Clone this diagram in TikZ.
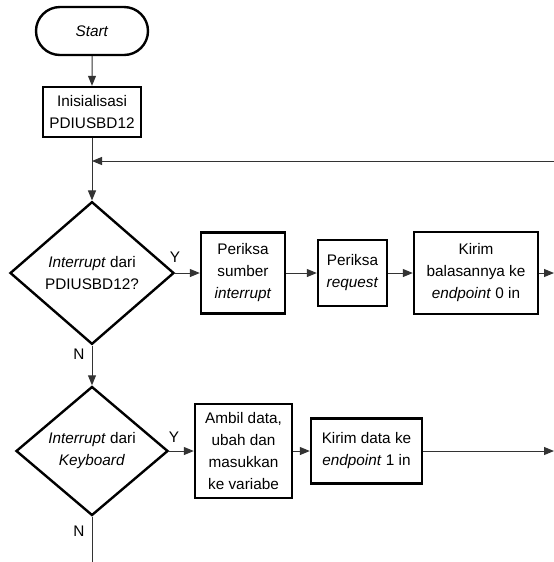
\documentclass[tikz,border=0pt]{standalone}
\usepackage{fontspec}
\setmainfont{Liberation Sans}
\usetikzlibrary{arrows.meta,shapes.geometric,shapes.misc}
\tikzset{
  fcnode/.style = {align=center, inner sep=0pt, text centered,
    font=\fontsize{11.5}{16.5}\selectfont, draw=black, line width=1.8pt},
  fc_term/.style = {fcnode, rounded rectangle, minimum width=84pt,
    minimum height=36pt},% terminal
  fc_proc/.style = {fcnode, rectangle},% proses
  fc_dec/.style = {fcnode, diamond, aspect=1.15},% keputusan
  fc_lbl/.style = {inner sep=0pt, font=\fontsize{11.5}{13}\selectfont},% label Y/N
  fc_line/.style = {draw=black!80, line width=0.75pt}% garis alur
}

\begin{document}
\begin{tikzpicture}[x=0.75pt,y=-0.75pt,>={Triangle[length=7.5pt,width=6pt]}]
\useasboundingbox (0,0) rectangle (554,562);
\node [fc_term] (start) at (92,31) {\textit{Start}};
\node [fc_proc, minimum width=73.5pt, minimum height=37.5pt] (init) at (92,112)
    {Inisialisasi\\PDIUSBD12};
\node [fc_dec, minimum width=123pt, minimum height=107pt] (cek_usb) at (92,273)
    {\textit{Interrupt} dari\\PDIUSBD12?};
\node [fc_proc, minimum width=63pt, minimum height=60.75pt] (sumber) at (243,273)
    {Periksa\\sumber\\\textit{interrupt}};
\node [fc_proc, minimum width=51.75pt, minimum height=49.5pt] (request) at (352.5,273)
    {Periksa\\\textit{request}};
\node [fc_proc, minimum width=93pt, minimum height=61.5pt] (balas) at (476,273)
    {Kirim\\balasannya ke\\\textit{endpoint} 0 in};
\node [fc_dec, minimum width=114pt, minimum height=96.75pt] (cek_kb) at (92,451)
    {\textit{Interrupt} dari\\\textit{Keyboard}};
\node [fc_proc, minimum width=72.75pt, minimum height=70.5pt] (ambil) at (243.5,451)
    {Ambil data,\\ubah dan\\masukkan\\ke variabe};
\node [fc_proc, minimum width=83.25pt, minimum height=48.75pt] (kirim) at (366.5,451)
    {Kirim data ke\\\textit{endpoint} 1 in};
% label cabang
\node [fc_lbl] (y_usb) at (175,257) {Y};
\node [fc_lbl] (n_usb) at (79,354) {N};
\node [fc_lbl] (y_kb) at (174,437) {Y};
\node [fc_lbl] (n_kb) at (79,531) {N};
% ujung bebas
\coordinate (balik) at (554,161);
\coordinate (kanan1) at (554,273);
\coordinate (kanan2) at (554,451);
\coordinate (bawah) at (92,562);
% garis
\draw [fc_line,->] (start) -- (init);
\draw [fc_line,->] (init) -- (cek_usb);
\draw [fc_line,->] (balik) -- (balik -| init);
\draw [fc_line,->] (cek_usb) -- (sumber);
\draw [fc_line,->] (sumber) -- (request);
\draw [fc_line,->] (request) -- (balas);
\draw [fc_line,->] (balas) -- (kanan1);
\draw [fc_line,->] (cek_usb) -- (cek_kb);
\draw [fc_line,->] (cek_kb) -- (ambil);
\draw [fc_line,->] (ambil) -- (kirim);
\draw [fc_line,->] (kirim) -- (kanan2);
\draw [fc_line] (cek_kb) -- (bawah);
\end{tikzpicture}
\end{document}
